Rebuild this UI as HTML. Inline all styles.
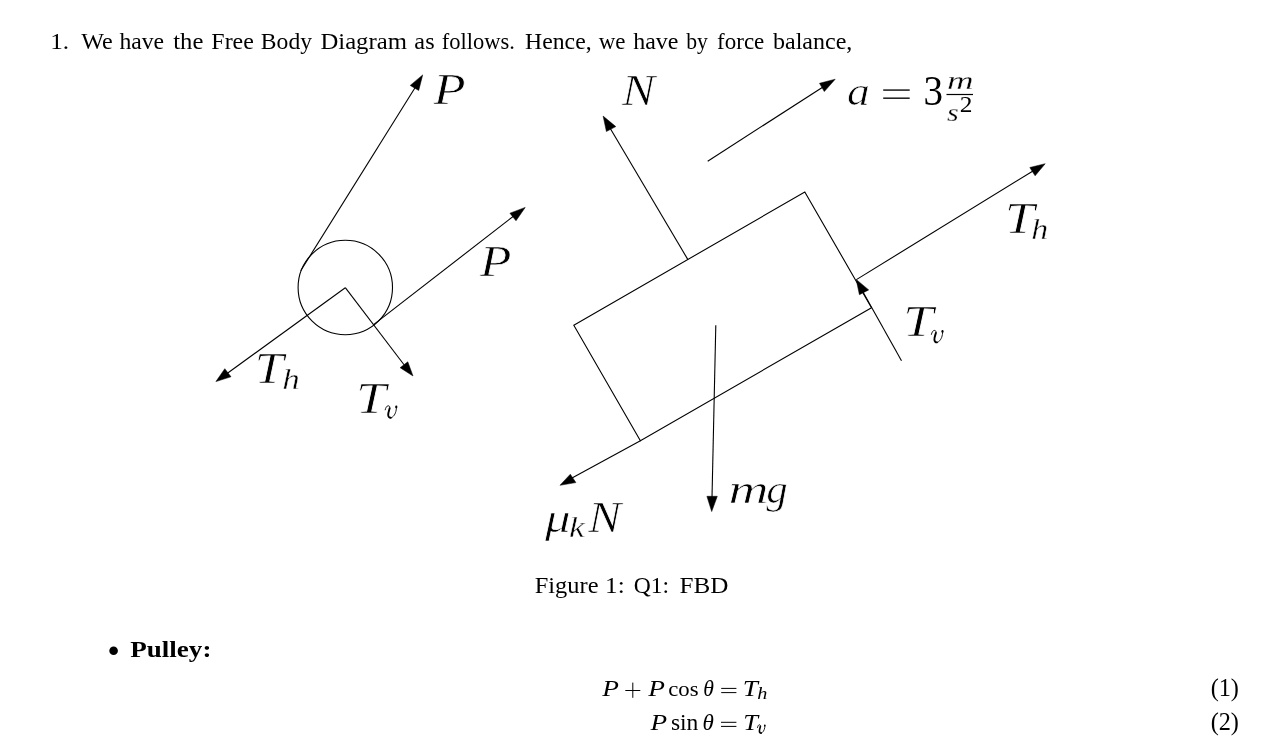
<!DOCTYPE html>
<html><head><meta charset="utf-8"><title>FBD</title>
<style>
html,body{margin:0;padding:0;background:#fff;}
body{width:1269px;height:743px;overflow:hidden;position:relative;}
svg{position:absolute;left:0;top:0;will-change:transform;}
text{font-family:"Liberation Serif",serif;fill:#000;}
.it{font-style:italic;}
.th{stroke:#fff;stroke-width:0.7px;}
.th2{stroke:#fff;stroke-width:0.4px;}
.th3{stroke:#fff;stroke-width:0.3px;}
.b{font-weight:bold;}
</style></head>
<body>
<svg width="1269" height="743" viewBox="0 0 1269 743">

<g fill="none" stroke="#000" stroke-width="1.1">
<circle cx="345.3" cy="287.5" r="47.2"/>
<line x1="300.7" y1="270.8" x2="418" y2="83"/>
<line x1="373.9" y1="324.4" x2="515" y2="215"/>
<line x1="345.3" y1="287.7" x2="225" y2="375"/>
<line x1="345.3" y1="287.7" x2="405" y2="366"/>
<polygon points="573.8,325.3 804.8,192 871.5,307.7 640.4,440.7"/>
<line x1="687.9" y1="259.6" x2="610" y2="128"/>
<line x1="707.7" y1="161.2" x2="823" y2="87"/>
<line x1="856.4" y1="279.6" x2="1033" y2="171"/>
<line x1="901.5" y1="360.7" x2="863" y2="292"/>
<line x1="640.4" y1="440.7" x2="572" y2="478"/>
<line x1="715.8" y1="325.3" x2="712" y2="498"/>
</g>
<g fill="#000" stroke="#000" stroke-width="0.5" stroke-linejoin="miter" stroke-miterlimit="10">
<polygon points="422.7,74.9 410.2,85.4 418.7,90.5"/>
<polygon points="525.2,207.4 509.9,213.2 516,220.8"/>
<polygon points="215.9,381.6 224.8,368.7 231,376.8"/>
<polygon points="413,376 400.1,367.7 407.8,361.8"/>
<polygon points="603.1,116.1 606.4,131.5 615.8,126.6"/>
<polygon points="835.2,79.2 819.5,83.3 824.3,91.6"/>
<polygon points="1045.2,163.7 1029.8,167.5 1035.1,175.8"/>
<polygon points="856.2,279.4 859.4,294.7 868.7,289.9"/>
<polygon points="560,485.3 570.3,474.2 575.9,482.6"/>
<polygon points="711.7,511.6 706.9,496.3 717.3,496.3"/>
</g>
<g fill="#000" stroke="none">
<!-- a = : equals bars, fraction bar -->
<rect x="883.2" y="89.4" width="26.5" height="1.35"/>
<rect x="883.2" y="97.5" width="26.5" height="1.35"/>
<rect x="946.5" y="93.9" width="26.5" height="1.2"/>
<!-- CM italic v glyphs -->
<g transform="translate(931,330)"><g fill="none" stroke="#000" stroke-linecap="round">
<path d="M0.4,4.4 C0.9,2.2 1.9,0.5 3.3,0.4 C4.8,0.3 5.3,1.4 4.9,2.9" stroke-width="0.9"/>
<path d="M4.9,2.9 C4.3,4.9 3.3,7.4 3.4,9.6 C3.5,11.6 4.6,12.5 6,12.4" stroke-width="1.9"/>
<path d="M6,12.4 C8.6,12 10.8,8.5 11.4,4.5 C11.6,3 11.7,2 11.5,1.3" stroke-width="0.9"/>
</g><ellipse cx="11.5" cy="1.5" rx="1.1" ry="1.4" fill="#000"/></g>
<g transform="translate(384.8,405.4)"><g fill="none" stroke="#000" stroke-linecap="round">
<path d="M0.4,4.4 C0.9,2.2 1.9,0.5 3.3,0.4 C4.8,0.3 5.3,1.4 4.9,2.9" stroke-width="0.9"/>
<path d="M4.9,2.9 C4.3,4.9 3.3,7.4 3.4,9.6 C3.5,11.6 4.6,12.5 6,12.4" stroke-width="1.9"/>
<path d="M6,12.4 C8.6,12 10.8,8.5 11.4,4.5 C11.6,3 11.7,2 11.5,1.3" stroke-width="0.9"/>
</g><ellipse cx="11.5" cy="1.5" rx="1.1" ry="1.4" fill="#000"/></g>
<g transform="translate(757.2,724.5) scale(0.66,0.69)"><g fill="none" stroke="#000" stroke-linecap="round">
<path d="M0.4,4.4 C0.9,2.2 1.9,0.5 3.3,0.4 C4.8,0.3 5.3,1.4 4.9,2.9" stroke-width="1.3"/>
<path d="M4.9,2.9 C4.3,4.9 3.3,7.4 3.4,9.6 C3.5,11.6 4.6,12.5 6,12.4" stroke-width="2.5"/>
<path d="M6,12.4 C8.6,12 10.8,8.5 11.4,4.5 C11.6,3 11.7,2 11.5,1.3" stroke-width="1.3"/>
</g><ellipse cx="11.5" cy="1.5" rx="1.3" ry="1.6" fill="#000"/></g>
<!-- bullet -->
<circle cx="113.6" cy="650.8" r="4.3"/>
<!-- eq1 + and = -->
<rect x="625.3" y="690.0" width="15" height="1.0"/>
<rect x="632.3" y="682.6" width="1.0" height="15.2"/>
<rect x="721.2" y="687.9" width="15.2" height="1.0"/>
<rect x="721.2" y="692.1" width="15.2" height="1.0"/>
<rect x="721.0" y="721.8" width="15.4" height="1.0"/>
<rect x="721.0" y="725.9" width="15.4" height="1.0"/>
</g>
<text id="t1" font-size="24" transform="matrix(1.0512 0 0 0.9663 50.22 48.83)">1.</text>
<text id="lP1" class="it th" font-size="44" transform="matrix(1.1955 0 0 1.0250 433.40 104.47)">P</text>
<text id="lP2" class="it th" font-size="44" transform="matrix(1.1688 0 0 0.9849 479.99 275.57)">P</text>
<text id="lTh1" class="it th" font-size="44" transform="matrix(1.1934 0 0 0.9849 254.39 382.57)">T</text>
<text id="lTh1s" class="it th2" font-size="30" transform="matrix(1.1663 0 0 1.0081 282.30 389.03)">h</text>
<text id="lTv1" class="it th" font-size="44" transform="matrix(1.2312 0 0 0.9906 355.97 413.45)">T</text>
<text id="lN" class="it th" font-size="44" transform="matrix(1.1233 0 0 0.9854 622.10 104.54)">N</text>
<text id="la" class="it th" font-size="44" transform="matrix(1.0370 0 0 0.9296 846.99 104.70)">a</text>
<text id="l3" font-size="44" transform="matrix(0.8867 0 0 0.9429 923.57 104.61)">3</text>
<text id="lm" class="it th3" font-size="30" transform="matrix(1.2301 0 0 0.8692 947.11 88.89)">m</text>
<text id="ls" class="it th3" font-size="30" transform="matrix(1.0007 0 0 0.8543 946.92 120.76)">s</text>
<text id="l2" font-size="22" transform="matrix(1.1544 0 0 1.0505 959.81 111.73)">2</text>
<text id="lTh2" class="it th" font-size="44" transform="matrix(1.2181 0 0 0.9919 1004.72 232.97)">T</text>
<text id="lTh2s" class="it th2" font-size="30" transform="matrix(1.1304 0 0 0.9582 1031.31 238.97)">h</text>
<text id="lTv2" class="it th" font-size="44" transform="matrix(1.2402 0 0 1.0123 902.94 336.38)">T</text>
<text id="lmm" class="it th" font-size="44" transform="matrix(1.2650 0 0 0.9287 728.51 503.11)">m</text>
<text id="lmgg" class="it th" font-size="44" transform="matrix(0.9708 0 0 0.8965 766.19 503.14)">g</text>
<text id="lmu" class="it th" font-size="44" transform="matrix(1.1590 0 0 0.8911 545.07 532.17)">μ</text>
<text id="lk" class="it th2" font-size="30" transform="matrix(1.1795 0 0 0.9617 568.91 536.78)">k</text>
<text id="lN2" class="it th" font-size="44" transform="matrix(1.1169 0 0 0.9917 588.30 531.58)">N</text>
<text id="pul" class="b" font-size="24" transform="matrix(1.1288 0 0 0.9388 130.17 656.80)">Pulley:</text>
<text id="eP1" class="it" font-size="24" transform="matrix(1.1381 0 0 0.9842 602.30 696.05)">P</text>
<text id="eP2" class="it" font-size="24" transform="matrix(1.1404 0 0 1.0035 648.30 695.85)">P</text>
<text id="ecos" font-size="24" transform="matrix(0.9472 0 0 0.8803 668.25 695.95)">cos</text>
<text id="eth1" class="it" font-size="24" transform="matrix(0.9042 0 0 0.9755 703.21 696.00)">θ</text>
<text id="eT1" class="it" font-size="24" transform="matrix(1.1324 0 0 0.9552 742.73 695.66)">T</text>
<text id="eh1" class="it" font-size="17" transform="matrix(1.1934 0 0 0.9544 757.15 698.56)">h</text>
<text id="eP3" class="it" font-size="24" transform="matrix(1.1343 0 0 1.0015 650.49 729.73)">P</text>
<text id="esin" font-size="24" transform="matrix(0.9808 0 0 0.9741 670.89 729.76)">sin</text>
<text id="eth2" class="it" font-size="24" transform="matrix(0.9623 0 0 0.9643 702.58 729.91)">θ</text>
<text id="eT2" class="it" font-size="24" transform="matrix(1.1047 0 0 0.9359 743.14 729.85)">T</text>
<text id="n1" font-size="24" transform="matrix(1.0117 0 0 1.0729 1210.65 696.26)">(1)</text>
<text id="n2" font-size="24" transform="matrix(1.0117 0 0 1.0729 1210.65 730.29)">(2)</text>
<text id="w1_0" font-size="24" transform="matrix(1.0036 0 0 0.9900 81.16 48.80)">We</text>
<text id="w1_1" font-size="24" transform="matrix(0.9867 0 0 0.9900 119.38 48.80)">have</text>
<text id="w1_2" font-size="24" transform="matrix(1.0272 0 0 0.9900 173.21 48.80)">the</text>
<text id="w1_3" font-size="24" transform="matrix(0.9955 0 0 0.9900 211.36 48.80)">Free</text>
<text id="w1_4" font-size="24" transform="matrix(0.9840 0 0 0.9900 260.86 48.80)">Body</text>
<text id="w1_5" font-size="24" transform="matrix(1.0305 0 0 0.9900 320.41 48.80)">Diagram</text>
<text id="w1_6" font-size="24" transform="matrix(1.0124 0 0 0.9900 414.36 48.80)">as</text>
<text id="w1_7" font-size="24" transform="matrix(0.9377 0 0 0.9900 441.80 48.80)">follows.</text>
<text id="w1_8" font-size="24" transform="matrix(0.9885 0 0 0.9900 525.11 48.80)">Hence,</text>
<text id="w1_9" font-size="24" transform="matrix(0.9570 0 0 0.9900 598.66 48.80)">we</text>
<text id="w1_10" font-size="24" transform="matrix(0.9987 0 0 0.9900 633.16 48.80)">have</text>
<text id="w1_11" font-size="24" transform="matrix(0.9048 0 0 0.9900 686.14 48.80)">by</text>
<text id="w1_12" font-size="24" transform="matrix(0.9585 0 0 0.9900 717.10 48.80)">force</text>
<text id="w1_13" font-size="24" transform="matrix(1.0017 0 0 0.9900 772.98 48.80)">balance,</text>
<text id="w2_0" font-size="24" transform="matrix(1.0171 0 0 0.9800 534.77 593.10)">Figure</text>
<text id="w2_1" font-size="24" transform="matrix(1.0505 0 0 0.9800 605.10 593.10)">1:</text>
<text id="w2_2" font-size="24" transform="matrix(0.9833 0 0 0.9800 633.79 593.10)">Q1:</text>
<text id="w2_3" font-size="24" transform="matrix(1.0478 0 0 0.9800 679.43 593.10)">FBD</text>
</svg>
</body></html>
